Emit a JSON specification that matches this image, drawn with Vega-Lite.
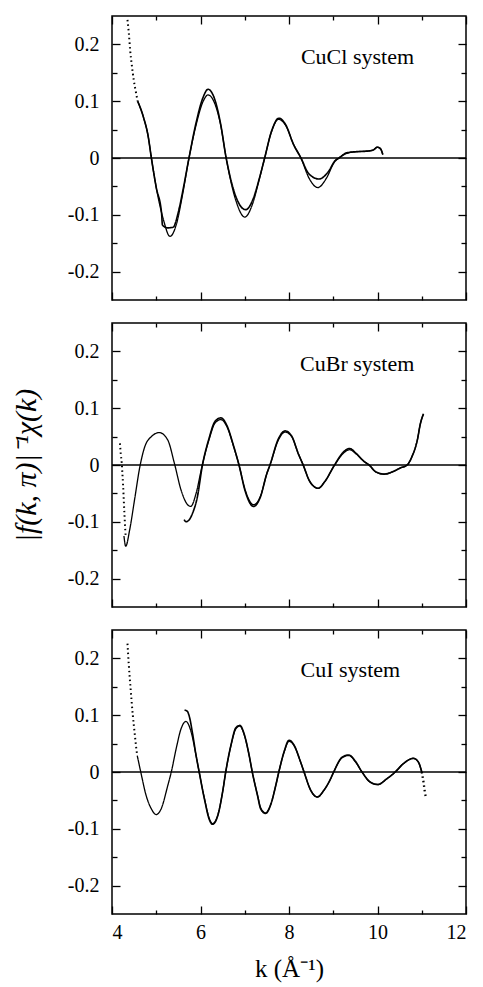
{
  "$schema": "https://vega.github.io/schema/vega-lite/v6.json",
  "background": "white",
  "padding": {"left": 10, "top": 14, "right": 5, "bottom": 5},
  "spacing": 19,
  "config": {
    "view": {"stroke": "black", "strokeWidth": 1.5},
    "font": "Liberation Serif",
    "axis": {
      "grid": false,
      "domain": false,
      "tickColor": "black",
      "tickWidth": 1.3,
      "labelFont": "Liberation Serif",
      "labelFontSize": 20,
      "labelColor": "black",
      "titleFont": "Liberation Serif",
      "titleColor": "black",
      "titleFontWeight": "normal"
    }
  },
  "datasets": {
    "curves": [
      {"p": "CuCl", "s": "dotA", "k": 4.35, "v": 0.243},
      {"p": "CuCl", "s": "dotA", "k": 4.38, "v": 0.22},
      {"p": "CuCl", "s": "dotA", "k": 4.41, "v": 0.19},
      {"p": "CuCl", "s": "dotA", "k": 4.45, "v": 0.162},
      {"p": "CuCl", "s": "dotA", "k": 4.49, "v": 0.138},
      {"p": "CuCl", "s": "dotA", "k": 4.53, "v": 0.12},
      {"p": "CuCl", "s": "dotA", "k": 4.58, "v": 0.1},
      {"p": "CuCl", "s": "thin", "k": 4.58, "v": 0.1},
      {"p": "CuCl", "s": "thin", "k": 4.71, "v": 0.072},
      {"p": "CuCl", "s": "thin", "k": 4.82, "v": 0.037},
      {"p": "CuCl", "s": "thin", "k": 4.89, "v": 0.0},
      {"p": "CuCl", "s": "thin", "k": 5.0, "v": -0.052},
      {"p": "CuCl", "s": "thin", "k": 5.16, "v": -0.108},
      {"p": "CuCl", "s": "thin", "k": 5.31, "v": -0.138},
      {"p": "CuCl", "s": "thin", "k": 5.45, "v": -0.118},
      {"p": "CuCl", "s": "thin", "k": 5.6, "v": -0.062},
      {"p": "CuCl", "s": "thin", "k": 5.74, "v": 0.0},
      {"p": "CuCl", "s": "thin", "k": 5.9, "v": 0.058},
      {"p": "CuCl", "s": "thin", "k": 6.05, "v": 0.098},
      {"p": "CuCl", "s": "thin", "k": 6.17, "v": 0.111},
      {"p": "CuCl", "s": "thin", "k": 6.3, "v": 0.1},
      {"p": "CuCl", "s": "thin", "k": 6.45, "v": 0.06},
      {"p": "CuCl", "s": "thin", "k": 6.58, "v": 0.0},
      {"p": "CuCl", "s": "thin", "k": 6.8, "v": -0.075},
      {"p": "CuCl", "s": "thin", "k": 7.0, "v": -0.104},
      {"p": "CuCl", "s": "thin", "k": 7.18, "v": -0.08},
      {"p": "CuCl", "s": "thin", "k": 7.32, "v": -0.04},
      {"p": "CuCl", "s": "thin", "k": 7.45, "v": 0.0},
      {"p": "CuCl", "s": "thin", "k": 7.6, "v": 0.045},
      {"p": "CuCl", "s": "thin", "k": 7.76, "v": 0.068},
      {"p": "CuCl", "s": "thin", "k": 7.92, "v": 0.058},
      {"p": "CuCl", "s": "thin", "k": 8.1, "v": 0.025},
      {"p": "CuCl", "s": "thin", "k": 8.27, "v": 0.0},
      {"p": "CuCl", "s": "thin", "k": 8.45, "v": -0.035},
      {"p": "CuCl", "s": "thin", "k": 8.65, "v": -0.052},
      {"p": "CuCl", "s": "thin", "k": 8.85, "v": -0.035},
      {"p": "CuCl", "s": "thin", "k": 9.02, "v": -0.008},
      {"p": "CuCl", "s": "thin", "k": 9.13, "v": 0.0},
      {"p": "CuCl", "s": "thin", "k": 9.3, "v": 0.008},
      {"p": "CuCl", "s": "thin", "k": 9.5, "v": 0.011},
      {"p": "CuCl", "s": "thin", "k": 9.75, "v": 0.012},
      {"p": "CuCl", "s": "thin", "k": 9.9, "v": 0.014},
      {"p": "CuCl", "s": "thin", "k": 10.0, "v": 0.019},
      {"p": "CuCl", "s": "thin", "k": 10.07, "v": 0.016},
      {"p": "CuCl", "s": "thin", "k": 10.12, "v": 0.006},
      {"p": "CuCl", "s": "thick", "k": 4.58, "v": 0.1},
      {"p": "CuCl", "s": "thick", "k": 4.71, "v": 0.072},
      {"p": "CuCl", "s": "thick", "k": 4.82, "v": 0.037},
      {"p": "CuCl", "s": "thick", "k": 4.89, "v": 0.0},
      {"p": "CuCl", "s": "thick", "k": 5.0, "v": -0.052},
      {"p": "CuCl", "s": "thick", "k": 5.12, "v": -0.097},
      {"p": "CuCl", "s": "thick", "k": 5.14, "v": -0.118},
      {"p": "CuCl", "s": "thick", "k": 5.25, "v": -0.123},
      {"p": "CuCl", "s": "thick", "k": 5.38, "v": -0.122},
      {"p": "CuCl", "s": "thick", "k": 5.5, "v": -0.095},
      {"p": "CuCl", "s": "thick", "k": 5.62, "v": -0.05},
      {"p": "CuCl", "s": "thick", "k": 5.74, "v": 0.0},
      {"p": "CuCl", "s": "thick", "k": 5.9, "v": 0.062},
      {"p": "CuCl", "s": "thick", "k": 6.05, "v": 0.105},
      {"p": "CuCl", "s": "thick", "k": 6.17, "v": 0.121},
      {"p": "CuCl", "s": "thick", "k": 6.3, "v": 0.108},
      {"p": "CuCl", "s": "thick", "k": 6.45, "v": 0.062},
      {"p": "CuCl", "s": "thick", "k": 6.58, "v": 0.0},
      {"p": "CuCl", "s": "thick", "k": 6.8, "v": -0.068},
      {"p": "CuCl", "s": "thick", "k": 7.02, "v": -0.091},
      {"p": "CuCl", "s": "thick", "k": 7.2, "v": -0.07},
      {"p": "CuCl", "s": "thick", "k": 7.33, "v": -0.036},
      {"p": "CuCl", "s": "thick", "k": 7.45, "v": 0.0},
      {"p": "CuCl", "s": "thick", "k": 7.6, "v": 0.046},
      {"p": "CuCl", "s": "thick", "k": 7.77, "v": 0.07},
      {"p": "CuCl", "s": "thick", "k": 7.93, "v": 0.058},
      {"p": "CuCl", "s": "thick", "k": 8.1, "v": 0.024},
      {"p": "CuCl", "s": "thick", "k": 8.27, "v": 0.0},
      {"p": "CuCl", "s": "thick", "k": 8.45, "v": -0.028},
      {"p": "CuCl", "s": "thick", "k": 8.68, "v": -0.037},
      {"p": "CuCl", "s": "thick", "k": 8.88, "v": -0.025},
      {"p": "CuCl", "s": "thick", "k": 9.05, "v": -0.004},
      {"p": "CuCl", "s": "thick", "k": 9.13, "v": 0.0},
      {"p": "CuCl", "s": "thick", "k": 9.3, "v": 0.009},
      {"p": "CuCl", "s": "thick", "k": 9.5, "v": 0.011},
      {"p": "CuCl", "s": "thick", "k": 9.75, "v": 0.012},
      {"p": "CuCl", "s": "thick", "k": 9.9, "v": 0.014},
      {"p": "CuCl", "s": "thick", "k": 10.0, "v": 0.019},
      {"p": "CuCl", "s": "thick", "k": 10.07, "v": 0.016},
      {"p": "CuCl", "s": "thick", "k": 10.12, "v": 0.006},

      {"p": "CuBr", "s": "dotA", "k": 4.18, "v": 0.038},
      {"p": "CuBr", "s": "dotA", "k": 4.2, "v": 0.018},
      {"p": "CuBr", "s": "dotA", "k": 4.22, "v": 0.004},
      {"p": "CuBr", "s": "dotA", "k": 4.235, "v": -0.015},
      {"p": "CuBr", "s": "dotA", "k": 4.25, "v": -0.035},
      {"p": "CuBr", "s": "dotA", "k": 4.265, "v": -0.06},
      {"p": "CuBr", "s": "dotA", "k": 4.28, "v": -0.085},
      {"p": "CuBr", "s": "dotA", "k": 4.29, "v": -0.1},
      {"p": "CuBr", "s": "dotA", "k": 4.3, "v": -0.115},
      {"p": "CuBr", "s": "dotA", "k": 4.31, "v": -0.125},
      {"p": "CuBr", "s": "thin", "k": 4.27, "v": -0.125},
      {"p": "CuBr", "s": "thin", "k": 4.31, "v": -0.143},
      {"p": "CuBr", "s": "thin", "k": 4.4, "v": -0.114},
      {"p": "CuBr", "s": "thin", "k": 4.51, "v": -0.061},
      {"p": "CuBr", "s": "thin", "k": 4.63, "v": -0.003},
      {"p": "CuBr", "s": "thin", "k": 4.74, "v": 0.032},
      {"p": "CuBr", "s": "thin", "k": 4.89, "v": 0.05},
      {"p": "CuBr", "s": "thin", "k": 5.07, "v": 0.057},
      {"p": "CuBr", "s": "thin", "k": 5.26, "v": 0.044},
      {"p": "CuBr", "s": "thin", "k": 5.41, "v": 0.003},
      {"p": "CuBr", "s": "thin", "k": 5.56, "v": -0.044},
      {"p": "CuBr", "s": "thin", "k": 5.71, "v": -0.07},
      {"p": "CuBr", "s": "thin", "k": 5.78, "v": -0.073},
      {"p": "CuBr", "s": "thin", "k": 5.9, "v": -0.05},
      {"p": "CuBr", "s": "thin", "k": 6.04, "v": 0.0},
      {"p": "CuBr", "s": "thin", "k": 6.19, "v": 0.044},
      {"p": "CuBr", "s": "thin", "k": 6.33, "v": 0.074},
      {"p": "CuBr", "s": "thin", "k": 6.46, "v": 0.08},
      {"p": "CuBr", "s": "thin", "k": 6.6, "v": 0.067},
      {"p": "CuBr", "s": "thin", "k": 6.75, "v": 0.032},
      {"p": "CuBr", "s": "thin", "k": 6.87, "v": 0.0},
      {"p": "CuBr", "s": "thin", "k": 7.01, "v": -0.044},
      {"p": "CuBr", "s": "thin", "k": 7.2, "v": -0.07},
      {"p": "CuBr", "s": "thin", "k": 7.35, "v": -0.056},
      {"p": "CuBr", "s": "thin", "k": 7.5, "v": -0.015},
      {"p": "CuBr", "s": "thin", "k": 7.57, "v": 0.0},
      {"p": "CuBr", "s": "thin", "k": 7.76, "v": 0.044},
      {"p": "CuBr", "s": "thin", "k": 7.91, "v": 0.058},
      {"p": "CuBr", "s": "thin", "k": 8.06, "v": 0.05},
      {"p": "CuBr", "s": "thin", "k": 8.21, "v": 0.02},
      {"p": "CuBr", "s": "thin", "k": 8.32, "v": 0.0},
      {"p": "CuBr", "s": "thin", "k": 8.47, "v": -0.029},
      {"p": "CuBr", "s": "thin", "k": 8.66, "v": -0.041},
      {"p": "CuBr", "s": "thin", "k": 8.81, "v": -0.029},
      {"p": "CuBr", "s": "thin", "k": 9.03, "v": 0.0},
      {"p": "CuBr", "s": "thin", "k": 9.22, "v": 0.02},
      {"p": "CuBr", "s": "thin", "k": 9.37, "v": 0.027},
      {"p": "CuBr", "s": "thin", "k": 9.51, "v": 0.02},
      {"p": "CuBr", "s": "thin", "k": 9.7, "v": 0.006},
      {"p": "CuBr", "s": "thin", "k": 9.81, "v": 0.0},
      {"p": "CuBr", "s": "thin", "k": 9.96, "v": -0.012},
      {"p": "CuBr", "s": "thin", "k": 10.15, "v": -0.016},
      {"p": "CuBr", "s": "thin", "k": 10.34, "v": -0.012},
      {"p": "CuBr", "s": "thin", "k": 10.52, "v": -0.005},
      {"p": "CuBr", "s": "thin", "k": 10.67, "v": 0.0},
      {"p": "CuBr", "s": "thin", "k": 10.78, "v": 0.015},
      {"p": "CuBr", "s": "thin", "k": 10.9, "v": 0.044},
      {"p": "CuBr", "s": "thin", "k": 10.97, "v": 0.073},
      {"p": "CuBr", "s": "thin", "k": 11.04, "v": 0.09},
      {"p": "CuBr", "s": "thick", "k": 5.63, "v": -0.096},
      {"p": "CuBr", "s": "thick", "k": 5.67, "v": -0.1},
      {"p": "CuBr", "s": "thick", "k": 5.75, "v": -0.096},
      {"p": "CuBr", "s": "thick", "k": 5.82, "v": -0.085},
      {"p": "CuBr", "s": "thick", "k": 5.93, "v": -0.056},
      {"p": "CuBr", "s": "thick", "k": 6.04, "v": -0.002},
      {"p": "CuBr", "s": "thick", "k": 6.19, "v": 0.046},
      {"p": "CuBr", "s": "thick", "k": 6.33, "v": 0.077},
      {"p": "CuBr", "s": "thick", "k": 6.46, "v": 0.083},
      {"p": "CuBr", "s": "thick", "k": 6.6, "v": 0.069},
      {"p": "CuBr", "s": "thick", "k": 6.75, "v": 0.033},
      {"p": "CuBr", "s": "thick", "k": 6.87, "v": 0.0},
      {"p": "CuBr", "s": "thick", "k": 7.01, "v": -0.046},
      {"p": "CuBr", "s": "thick", "k": 7.2, "v": -0.073},
      {"p": "CuBr", "s": "thick", "k": 7.35, "v": -0.057},
      {"p": "CuBr", "s": "thick", "k": 7.5, "v": -0.015},
      {"p": "CuBr", "s": "thick", "k": 7.57, "v": 0.0},
      {"p": "CuBr", "s": "thick", "k": 7.76, "v": 0.046},
      {"p": "CuBr", "s": "thick", "k": 7.91, "v": 0.06},
      {"p": "CuBr", "s": "thick", "k": 8.06, "v": 0.051},
      {"p": "CuBr", "s": "thick", "k": 8.21, "v": 0.02},
      {"p": "CuBr", "s": "thick", "k": 8.32, "v": 0.0},
      {"p": "CuBr", "s": "thick", "k": 8.47, "v": -0.029},
      {"p": "CuBr", "s": "thick", "k": 8.66, "v": -0.041},
      {"p": "CuBr", "s": "thick", "k": 8.81, "v": -0.029},
      {"p": "CuBr", "s": "thick", "k": 9.03, "v": 0.0},
      {"p": "CuBr", "s": "thick", "k": 9.22, "v": 0.022},
      {"p": "CuBr", "s": "thick", "k": 9.37, "v": 0.029},
      {"p": "CuBr", "s": "thick", "k": 9.51, "v": 0.021},
      {"p": "CuBr", "s": "thick", "k": 9.7, "v": 0.006},
      {"p": "CuBr", "s": "thick", "k": 9.81, "v": 0.0},
      {"p": "CuBr", "s": "thick", "k": 9.96, "v": -0.012},
      {"p": "CuBr", "s": "thick", "k": 10.15, "v": -0.016},
      {"p": "CuBr", "s": "thick", "k": 10.34, "v": -0.012},
      {"p": "CuBr", "s": "thick", "k": 10.52, "v": -0.005},
      {"p": "CuBr", "s": "thick", "k": 10.67, "v": 0.0},
      {"p": "CuBr", "s": "thick", "k": 10.78, "v": 0.015},
      {"p": "CuBr", "s": "thick", "k": 10.9, "v": 0.044},
      {"p": "CuBr", "s": "thick", "k": 10.97, "v": 0.073},
      {"p": "CuBr", "s": "thick", "k": 11.04, "v": 0.09},

      {"p": "CuI", "s": "dotA", "k": 4.35, "v": 0.226},
      {"p": "CuI", "s": "dotA", "k": 4.38, "v": 0.188},
      {"p": "CuI", "s": "dotA", "k": 4.42, "v": 0.147},
      {"p": "CuI", "s": "dotA", "k": 4.47, "v": 0.1},
      {"p": "CuI", "s": "dotA", "k": 4.51, "v": 0.07},
      {"p": "CuI", "s": "dotA", "k": 4.55, "v": 0.041},
      {"p": "CuI", "s": "dotA", "k": 4.57, "v": 0.029},
      {"p": "CuI", "s": "dotB", "k": 11.0, "v": 0.0},
      {"p": "CuI", "s": "dotB", "k": 11.04, "v": -0.018},
      {"p": "CuI", "s": "dotB", "k": 11.07, "v": -0.035},
      {"p": "CuI", "s": "dotB", "k": 11.1, "v": -0.047},
      {"p": "CuI", "s": "thin", "k": 4.57, "v": 0.029},
      {"p": "CuI", "s": "thin", "k": 4.65, "v": 0.0},
      {"p": "CuI", "s": "thin", "k": 4.77, "v": -0.041},
      {"p": "CuI", "s": "thin", "k": 4.89, "v": -0.065},
      {"p": "CuI", "s": "thin", "k": 5.0, "v": -0.075},
      {"p": "CuI", "s": "thin", "k": 5.11, "v": -0.065},
      {"p": "CuI", "s": "thin", "k": 5.26, "v": -0.024},
      {"p": "CuI", "s": "thin", "k": 5.34, "v": 0.0},
      {"p": "CuI", "s": "thin", "k": 5.45, "v": 0.041},
      {"p": "CuI", "s": "thin", "k": 5.56, "v": 0.076},
      {"p": "CuI", "s": "thin", "k": 5.67, "v": 0.089},
      {"p": "CuI", "s": "thin", "k": 5.79, "v": 0.07},
      {"p": "CuI", "s": "thin", "k": 5.9, "v": 0.029},
      {"p": "CuI", "s": "thin", "k": 5.97, "v": 0.0},
      {"p": "CuI", "s": "thin", "k": 6.09, "v": -0.047},
      {"p": "CuI", "s": "thin", "k": 6.2, "v": -0.082},
      {"p": "CuI", "s": "thin", "k": 6.27, "v": -0.091},
      {"p": "CuI", "s": "thin", "k": 6.39, "v": -0.076},
      {"p": "CuI", "s": "thin", "k": 6.5, "v": -0.035},
      {"p": "CuI", "s": "thin", "k": 6.57, "v": 0.0},
      {"p": "CuI", "s": "thin", "k": 6.69, "v": 0.047},
      {"p": "CuI", "s": "thin", "k": 6.8, "v": 0.076},
      {"p": "CuI", "s": "thin", "k": 6.89, "v": 0.081},
      {"p": "CuI", "s": "thin", "k": 6.99, "v": 0.065},
      {"p": "CuI", "s": "thin", "k": 7.1, "v": 0.029},
      {"p": "CuI", "s": "thin", "k": 7.17, "v": 0.0},
      {"p": "CuI", "s": "thin", "k": 7.29, "v": -0.041},
      {"p": "CuI", "s": "thin", "k": 7.36, "v": -0.063},
      {"p": "CuI", "s": "thin", "k": 7.47, "v": -0.072},
      {"p": "CuI", "s": "thin", "k": 7.59, "v": -0.056},
      {"p": "CuI", "s": "thin", "k": 7.7, "v": -0.024},
      {"p": "CuI", "s": "thin", "k": 7.77, "v": 0.0},
      {"p": "CuI", "s": "thin", "k": 7.89, "v": 0.035},
      {"p": "CuI", "s": "thin", "k": 8.0, "v": 0.054},
      {"p": "CuI", "s": "thin", "k": 8.11, "v": 0.047},
      {"p": "CuI", "s": "thin", "k": 8.26, "v": 0.018},
      {"p": "CuI", "s": "thin", "k": 8.34, "v": 0.0},
      {"p": "CuI", "s": "thin", "k": 8.49, "v": -0.032},
      {"p": "CuI", "s": "thin", "k": 8.64, "v": -0.044},
      {"p": "CuI", "s": "thin", "k": 8.79, "v": -0.032},
      {"p": "CuI", "s": "thin", "k": 8.94, "v": -0.012},
      {"p": "CuI", "s": "thin", "k": 9.01, "v": 0.0},
      {"p": "CuI", "s": "thin", "k": 9.2, "v": 0.025},
      {"p": "CuI", "s": "thin", "k": 9.35, "v": 0.029},
      {"p": "CuI", "s": "thin", "k": 9.5, "v": 0.018},
      {"p": "CuI", "s": "thin", "k": 9.65, "v": 0.0},
      {"p": "CuI", "s": "thin", "k": 9.84, "v": -0.018},
      {"p": "CuI", "s": "thin", "k": 10.01, "v": -0.022},
      {"p": "CuI", "s": "thin", "k": 10.21, "v": -0.012},
      {"p": "CuI", "s": "thin", "k": 10.4, "v": 0.0},
      {"p": "CuI", "s": "thin", "k": 10.59, "v": 0.015},
      {"p": "CuI", "s": "thin", "k": 10.81, "v": 0.024},
      {"p": "CuI", "s": "thin", "k": 10.92, "v": 0.018},
      {"p": "CuI", "s": "thin", "k": 11.0, "v": 0.0},
      {"p": "CuI", "s": "thick", "k": 5.64, "v": 0.109},
      {"p": "CuI", "s": "thick", "k": 5.7, "v": 0.107},
      {"p": "CuI", "s": "thick", "k": 5.75, "v": 0.097},
      {"p": "CuI", "s": "thick", "k": 5.82, "v": 0.068},
      {"p": "CuI", "s": "thick", "k": 5.9, "v": 0.029},
      {"p": "CuI", "s": "thick", "k": 5.97, "v": 0.0},
      {"p": "CuI", "s": "thick", "k": 6.09, "v": -0.048},
      {"p": "CuI", "s": "thick", "k": 6.2, "v": -0.084},
      {"p": "CuI", "s": "thick", "k": 6.27, "v": -0.092},
      {"p": "CuI", "s": "thick", "k": 6.39, "v": -0.077},
      {"p": "CuI", "s": "thick", "k": 6.5, "v": -0.035},
      {"p": "CuI", "s": "thick", "k": 6.57, "v": 0.0},
      {"p": "CuI", "s": "thick", "k": 6.69, "v": 0.048},
      {"p": "CuI", "s": "thick", "k": 6.8, "v": 0.078},
      {"p": "CuI", "s": "thick", "k": 6.89, "v": 0.082},
      {"p": "CuI", "s": "thick", "k": 6.99, "v": 0.066},
      {"p": "CuI", "s": "thick", "k": 7.1, "v": 0.029},
      {"p": "CuI", "s": "thick", "k": 7.17, "v": 0.0},
      {"p": "CuI", "s": "thick", "k": 7.29, "v": -0.042},
      {"p": "CuI", "s": "thick", "k": 7.36, "v": -0.065},
      {"p": "CuI", "s": "thick", "k": 7.47, "v": -0.073},
      {"p": "CuI", "s": "thick", "k": 7.59, "v": -0.057},
      {"p": "CuI", "s": "thick", "k": 7.7, "v": -0.024},
      {"p": "CuI", "s": "thick", "k": 7.77, "v": 0.0},
      {"p": "CuI", "s": "thick", "k": 7.89, "v": 0.036},
      {"p": "CuI", "s": "thick", "k": 8.0, "v": 0.056},
      {"p": "CuI", "s": "thick", "k": 8.11, "v": 0.048},
      {"p": "CuI", "s": "thick", "k": 8.26, "v": 0.018},
      {"p": "CuI", "s": "thick", "k": 8.34, "v": 0.0},
      {"p": "CuI", "s": "thick", "k": 8.49, "v": -0.032},
      {"p": "CuI", "s": "thick", "k": 8.64, "v": -0.044},
      {"p": "CuI", "s": "thick", "k": 8.79, "v": -0.032},
      {"p": "CuI", "s": "thick", "k": 8.94, "v": -0.012},
      {"p": "CuI", "s": "thick", "k": 9.01, "v": 0.0},
      {"p": "CuI", "s": "thick", "k": 9.2, "v": 0.026},
      {"p": "CuI", "s": "thick", "k": 9.35, "v": 0.03},
      {"p": "CuI", "s": "thick", "k": 9.5, "v": 0.019},
      {"p": "CuI", "s": "thick", "k": 9.65, "v": 0.0},
      {"p": "CuI", "s": "thick", "k": 9.84, "v": -0.018},
      {"p": "CuI", "s": "thick", "k": 10.01, "v": -0.022},
      {"p": "CuI", "s": "thick", "k": 10.21, "v": -0.012},
      {"p": "CuI", "s": "thick", "k": 10.4, "v": 0.0},
      {"p": "CuI", "s": "thick", "k": 10.59, "v": 0.015},
      {"p": "CuI", "s": "thick", "k": 10.81, "v": 0.024},
      {"p": "CuI", "s": "thick", "k": 10.92, "v": 0.018},
      {"p": "CuI", "s": "thick", "k": 11.0, "v": 0.0}
    ],
    "zero": [{"k0": 4, "k1": 12, "v": 0}]
  },
  "vconcat": [
    {
      "width": 354, "height": 284,
      "resolve": {"axis": {"x": "independent", "y": "independent"}},
      "layer": [
        {
          "data": {"name": "curves"},
          "transform": [{"filter": "datum.p == 'CuCl'"}],
          "mark": {"type": "line", "color": "black", "interpolate": "monotone"},
          "encoding": {
            "x": {"field": "k", "type": "quantitative", "scale": {"domain": [4, 12], "nice": false, "zero": false},
              "axis": {"orient": "bottom", "values": [4, 6, 8, 10, 12], "tickSize": -8, "labels": false, "title": null}},
            "y": {"field": "v", "type": "quantitative", "scale": {"domain": [-0.25, 0.25], "nice": false, "zero": false},
              "axis": {"orient": "left", "values": [-0.2, -0.1, 0, 0.1, 0.2], "tickSize": -8, "labelPadding": 21, "title": null,
                "labelExpr": "datum.value == 0 ? '0' : (datum.value < 0 ? '-' : '') + format(abs(datum.value), '.1f')"}},
            "detail": {"field": "s"},
            "strokeWidth": {"field": "s", "type": "nominal", "scale": {"domain": ["thin", "thick", "dotA", "dotB"], "range": [1.3, 2.3, 1.6, 1.6]}, "legend": null},
            "strokeDash": {"field": "s", "type": "nominal", "scale": {"domain": ["thin", "thick", "dotA", "dotB"], "range": [[1, 0], [1, 0], [1.5, 3], [1.5, 3]]}, "legend": null}
          }
        },
        {
          "data": {"name": "zero"},
          "mark": {"type": "rule", "color": "black", "strokeWidth": 1.5},
          "encoding": {
            "x": {"field": "k0", "type": "quantitative", "axis": {"orient": "top", "values": [4, 6, 8, 10, 12], "tickSize": -8, "labels": false, "title": null}},
            "x2": {"field": "k1"},
            "y": {"field": "v", "type": "quantitative", "axis": {"orient": "right", "values": [-0.2, -0.1, 0, 0.1, 0.2], "tickSize": -8, "labels": false, "title": null}}
          }
        },
        {
          "data": {"name": "zero"},
          "mark": {"type": "rule", "opacity": 0},
          "encoding": {
            "x": {"field": "k0", "type": "quantitative", "axis": {"orient": "bottom", "values": [5, 7, 9, 11], "tickSize": -4, "labels": false, "title": null}},
            "x2": {"field": "k1"},
            "y": {"field": "v", "type": "quantitative", "axis": {"orient": "left", "values": [-0.15, -0.05, 0.05, 0.15], "tickSize": -5, "labels": false, "title": null}}
          }
        },
        {
          "data": {"name": "zero"},
          "mark": {"type": "rule", "opacity": 0},
          "encoding": {
            "x": {"field": "k0", "type": "quantitative", "axis": {"orient": "top", "values": [5, 7, 9, 11], "tickSize": -4, "labels": false, "title": null}},
            "x2": {"field": "k1"},
            "y": {"field": "v", "type": "quantitative", "axis": {"orient": "right", "values": [-0.15, -0.05, 0.05, 0.15], "tickSize": -5, "labels": false, "title": null}}
          }
        },
        {
          "data": {"values": [{"label": "CuCl system"}]},
          "mark": {"type": "text", "align": "left", "baseline": "middle", "font": "Liberation Serif", "fontSize": 22, "color": "black"},
          "encoding": {
            "x": {"datum": 8.27, "type": "quantitative", "axis": null},
            "y": {"datum": 0.178, "type": "quantitative", "axis": null},
            "text": {"field": "label"}
          }
        }
      ]
    },
    {
      "width": 354, "height": 284,
      "resolve": {"axis": {"x": "independent", "y": "independent"}},
      "layer": [
        {
          "data": {"name": "curves"},
          "transform": [{"filter": "datum.p == 'CuBr'"}],
          "mark": {"type": "line", "color": "black", "interpolate": "monotone"},
          "encoding": {
            "x": {"field": "k", "type": "quantitative", "scale": {"domain": [4, 12], "nice": false, "zero": false},
              "axis": {"orient": "bottom", "values": [4, 6, 8, 10, 12], "tickSize": -8, "labels": false, "title": null}},
            "y": {"field": "v", "type": "quantitative", "scale": {"domain": [-0.25, 0.25], "nice": false, "zero": false},
              "axis": {"orient": "left", "values": [-0.2, -0.1, 0, 0.1, 0.2], "tickSize": -8, "labelPadding": 21,
                "title": "|f(k, π)|⁻¹χ(k)", "titleFontSize": 30, "titleFontStyle": "italic", "titlePadding": 26,
                "labelExpr": "datum.value == 0 ? '0' : (datum.value < 0 ? '-' : '') + format(abs(datum.value), '.1f')"}},
            "detail": {"field": "s"},
            "strokeWidth": {"field": "s", "type": "nominal", "scale": {"domain": ["thin", "thick", "dotA", "dotB"], "range": [1.3, 2.3, 1.6, 1.6]}, "legend": null},
            "strokeDash": {"field": "s", "type": "nominal", "scale": {"domain": ["thin", "thick", "dotA", "dotB"], "range": [[1, 0], [1, 0], [1.5, 4], [1.5, 4]]}, "legend": null}
          }
        },
        {
          "data": {"name": "zero"},
          "mark": {"type": "rule", "color": "black", "strokeWidth": 1.5},
          "encoding": {
            "x": {"field": "k0", "type": "quantitative", "axis": {"orient": "top", "values": [4, 6, 8, 10, 12], "tickSize": -8, "labels": false, "title": null}},
            "x2": {"field": "k1"},
            "y": {"field": "v", "type": "quantitative", "axis": {"orient": "right", "values": [-0.2, -0.1, 0, 0.1, 0.2], "tickSize": -8, "labels": false, "title": null}}
          }
        },
        {
          "data": {"name": "zero"},
          "mark": {"type": "rule", "opacity": 0},
          "encoding": {
            "x": {"field": "k0", "type": "quantitative", "axis": {"orient": "bottom", "values": [5, 7, 9, 11], "tickSize": -4, "labels": false, "title": null}},
            "x2": {"field": "k1"},
            "y": {"field": "v", "type": "quantitative", "axis": {"orient": "left", "values": [-0.15, -0.05, 0.05, 0.15], "tickSize": -5, "labels": false, "title": null}}
          }
        },
        {
          "data": {"name": "zero"},
          "mark": {"type": "rule", "opacity": 0},
          "encoding": {
            "x": {"field": "k0", "type": "quantitative", "axis": {"orient": "top", "values": [5, 7, 9, 11], "tickSize": -4, "labels": false, "title": null}},
            "x2": {"field": "k1"},
            "y": {"field": "v", "type": "quantitative", "axis": {"orient": "right", "values": [-0.15, -0.05, 0.05, 0.15], "tickSize": -5, "labels": false, "title": null}}
          }
        },
        {
          "data": {"values": [{"label": "CuBr system"}]},
          "mark": {"type": "text", "align": "left", "baseline": "middle", "font": "Liberation Serif", "fontSize": 22, "color": "black"},
          "encoding": {
            "x": {"datum": 8.25, "type": "quantitative", "axis": null},
            "y": {"datum": 0.178, "type": "quantitative", "axis": null},
            "text": {"field": "label"}
          }
        }
      ]
    },
    {
      "width": 354, "height": 284,
      "resolve": {"axis": {"x": "independent", "y": "independent"}},
      "layer": [
        {
          "data": {"name": "curves"},
          "transform": [{"filter": "datum.p == 'CuI'"}],
          "mark": {"type": "line", "color": "black", "interpolate": "monotone"},
          "encoding": {
            "x": {"field": "k", "type": "quantitative", "scale": {"domain": [4, 12], "nice": false, "zero": false},
              "axis": {"orient": "bottom", "values": [4, 6, 8, 10, 12], "tickSize": -8, "labelPadding": 16,
                "title": "k  (Å⁻¹)", "titleFontSize": 25, "titlePadding": 14}},
            "y": {"field": "v", "type": "quantitative", "scale": {"domain": [-0.25, 0.25], "nice": false, "zero": false},
              "axis": {"orient": "left", "values": [-0.2, -0.1, 0, 0.1, 0.2], "tickSize": -8, "labelPadding": 21, "title": null,
                "labelExpr": "datum.value == 0 ? '0' : (datum.value < 0 ? '-' : '') + format(abs(datum.value), '.1f')"}},
            "detail": {"field": "s"},
            "strokeWidth": {"field": "s", "type": "nominal", "scale": {"domain": ["thin", "thick", "dotA", "dotB"], "range": [1.3, 2.3, 1.6, 1.6]}, "legend": null},
            "strokeDash": {"field": "s", "type": "nominal", "scale": {"domain": ["thin", "thick", "dotA", "dotB"], "range": [[1, 0], [1, 0], [1.5, 3], [1.5, 3]]}, "legend": null}
          }
        },
        {
          "data": {"name": "zero"},
          "mark": {"type": "rule", "color": "black", "strokeWidth": 1.5},
          "encoding": {
            "x": {"field": "k0", "type": "quantitative", "axis": {"orient": "top", "values": [4, 6, 8, 10, 12], "tickSize": -8, "labels": false, "title": null}},
            "x2": {"field": "k1"},
            "y": {"field": "v", "type": "quantitative", "axis": {"orient": "right", "values": [-0.2, -0.1, 0, 0.1, 0.2], "tickSize": -8, "labels": false, "title": null}}
          }
        },
        {
          "data": {"name": "zero"},
          "mark": {"type": "rule", "opacity": 0},
          "encoding": {
            "x": {"field": "k0", "type": "quantitative", "axis": {"orient": "bottom", "values": [5, 7, 9, 11], "tickSize": -4, "labels": false, "title": null}},
            "x2": {"field": "k1"},
            "y": {"field": "v", "type": "quantitative", "axis": {"orient": "left", "values": [-0.15, -0.05, 0.05, 0.15], "tickSize": -5, "labels": false, "title": null}}
          }
        },
        {
          "data": {"name": "zero"},
          "mark": {"type": "rule", "opacity": 0},
          "encoding": {
            "x": {"field": "k0", "type": "quantitative", "axis": {"orient": "top", "values": [5, 7, 9, 11], "tickSize": -4, "labels": false, "title": null}},
            "x2": {"field": "k1"},
            "y": {"field": "v", "type": "quantitative", "axis": {"orient": "right", "values": [-0.15, -0.05, 0.05, 0.15], "tickSize": -5, "labels": false, "title": null}}
          }
        },
        {
          "data": {"values": [{"label": "CuI system"}]},
          "mark": {"type": "text", "align": "left", "baseline": "middle", "font": "Liberation Serif", "fontSize": 22, "color": "black"},
          "encoding": {
            "x": {"datum": 8.26, "type": "quantitative", "axis": null},
            "y": {"datum": 0.179, "type": "quantitative", "axis": null},
            "text": {"field": "label"}
          }
        }
      ]
    }
  ]
}
